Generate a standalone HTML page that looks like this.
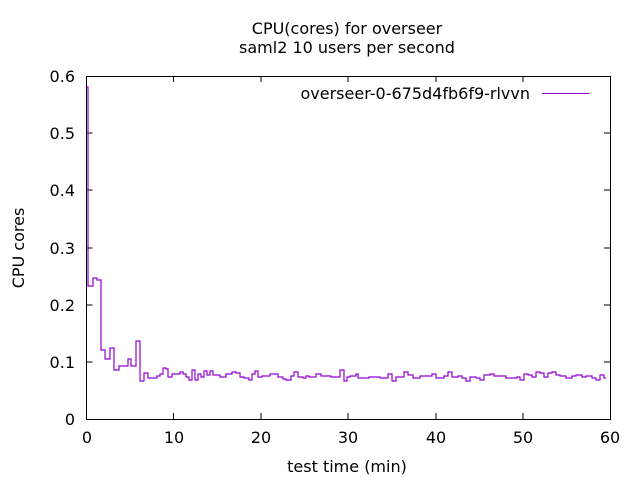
<!DOCTYPE html>
<html><head><style>
body{margin:0;background:#fff;}
svg text{font-family:"DejaVu Sans",sans-serif;font-size:16px;fill:#000;}
</style></head><body>
<svg width="640" height="480" viewBox="0 0 640 480">
<rect width="640" height="480" fill="#fff"/>
<text x="347" y="34" text-anchor="middle">CPU(cores) for overseer</text>
<text x="347" y="53" text-anchor="middle">saml2 10 users per second</text>
<g stroke="#000" stroke-width="1" fill="none">
<rect x="86.5" y="76.5" width="524" height="343"/>
<path d="M86.5 362h6M610 362h-6M86.5 305h6M610 305h-6M86.5 248h6M610 248h-6M86.5 190h6M610 190h-6M86.5 133h6M610 133h-6
M173.5 419v-6M173.5 76v6M261 419v-6M261 76v6M348 419v-6M348 76v6M436 419v-6M436 76v6M523 419v-6M523 76v6"/>
</g>
<g text-anchor="end">
<text x="75" y="425">0</text><text x="75" y="368">0.1</text><text x="75" y="311">0.2</text>
<text x="75" y="254">0.3</text><text x="75" y="196">0.4</text><text x="75" y="139">0.5</text><text x="75" y="82">0.6</text>
</g>
<g text-anchor="middle">
<text x="87" y="443">0</text><text x="174" y="443">10</text><text x="261" y="443">20</text><text x="348" y="443">30</text>
<text x="436" y="443">40</text><text x="523" y="443">50</text><text x="610" y="443">60</text>
<text x="347" y="472">test time (min)</text>
</g>
<text transform="translate(24,248) rotate(-90)" text-anchor="middle">CPU cores</text>
<text x="530" y="99" text-anchor="end">overseer-0-675d4fb6f9-rlvvn</text>
<path d="M542 93.5h47" stroke="#9400d3" stroke-width="1"/>
<path fill="none" stroke="#9400d3" stroke-width="1.2" d="M86.5 87H88V286H93V278H97V280H101V350H105V359H110V348H114V370H119V366H128V359H131V366H136V341H140V381H144V373H148V378H157V376H160V374H163V368H166V369H168V377H172V374H180V372H183V374H186V377H189V380H192V370H195V380H198V374H201V377H204V371H207V375H210V371H213V375H220V377H226V374H232V372H236V373H240V377H244V378H249V380H252V374H255V371H258V377H262V376H270V374H274V374H278V377H283V379H286V380H291V376H294V372H298V377H303V378H306V376H309V377H316V374H321V376H327V376H331V377H336V377H340V370H344V381H347V377H350V376H356V374H358V378H364V378H369V377H376V377H380V378H384V378H388V374H392V381H396V377H400V377H404V372H408V375H413V378H420V376H428V376H432V374H436V378H440V378H444V376H448V372H452V377H458V376H462V378H466V381H470V377H476V378H480V380H484V375H490V374H494V376H500V376H506V378H512V378H517V377H520V380H524V374H528V375H532V377H536V372H540V373H544V377H548V373H552V372H556V375H560V376H566V378H572V376H576V375H582V377H586V376H592V378H596V380H600V375H604V378H606"/>
</svg>
</body></html>
